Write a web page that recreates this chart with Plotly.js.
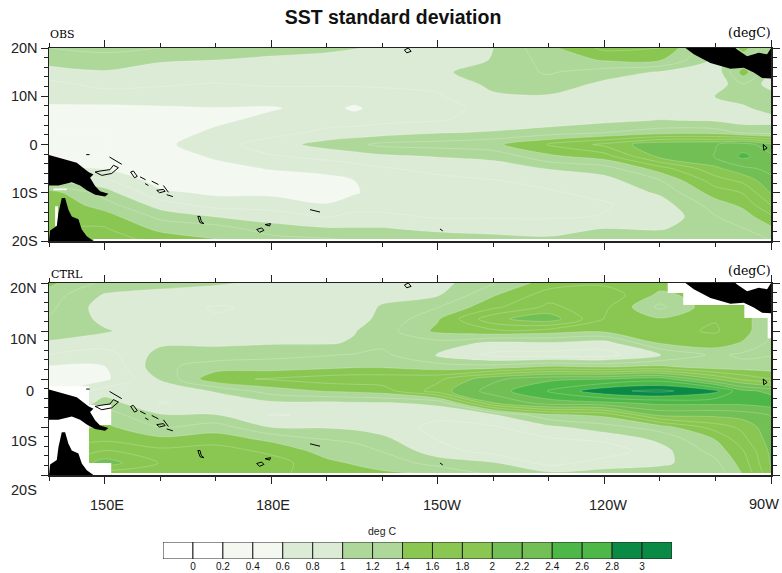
<!DOCTYPE html>
<html><head><meta charset="utf-8">
<script src="https://cdn.plot.ly/plotly-3.0.1.min.js"></script>
<style>html,body{margin:0;padding:0;background:#fff}</style></head>
<body><div id="chart" style="width:782px;height:573px"></div>
<script>
const lons=[140,150,160,170,180,190,195,200,210,220,230,240,250,260,265,270];
const lats=[20,17.5,15,12.5,10,7.5,5,2.5,0,-2.5,-5,-7.5,-10,-12.5,-15,-17.5,-20];

// one inner list per longitude, north to south
const obsColumns=[
[1.2,1.1,.9,.75,.7,.55,.45,.4,.4,.4,.59,1.0,1.5,1.57,1.58,1.59,1.58],
[1.25,1.12,.98,.85,.72,.55,.45,.4,.38,.4,.59,.85,1.1,1.3,1.5,1.62,1.7],
[1.2,1.02,.92,.82,.72,.57,.48,.5,.55,.52,.45,.5,.65,.9,1.15,1.35,1.55],
[1.15,1.0,.9,.79,.72,.59,.56,.64,.72,.62,.55,.48,.56,.72,1.0,1.3,1.42],
[1.1,.95,.88,.82,.72,.58,.66,.72,.9,.78,.61,.52,.55,.72,.9,1.1,1.3],
[1.05,.92,.85,.82,.7,.68,.72,.85,1.08,.85,.68,.52,.46,.62,.79,1.03,1.25],
[1.01,.9,.85,.82,.72,.56,.72,.88,1.15,.9,.72,.6,.58,.72,.85,1.02,1.2],
[.96,.9,.85,.82,.75,.7,.76,.9,1.25,.95,.78,.7,.68,.72,.85,1.02,1.19],
[.9,.9,.96,.85,.78,.75,.79,.98,1.28,1.01,.85,.75,.72,.72,.78,.95,1.15],
[1.0,1.01,1.1,1.05,.97,.85,.85,1.02,1.35,1.05,.9,.79,.75,.72,.78,.92,1.1],
[1.35,1.28,1.22,1.12,.98,.85,.88,1.1,1.61,1.35,1.01,.85,.78,.72,.78,.92,1.05],
[1.65,1.42,1.1,.95,.88,.85,.95,1.19,1.85,1.5,1.1,.92,.85,.78,.81,1.01,1.15],
[1.61,1.42,.98,.9,.85,.82,1.01,1.3,2.15,2.05,1.5,1.19,1.03,.9,.85,.98,1.19],
[.99,.95,.85,.85,1.01,.9,.98,1.3,2.19,2.21,1.95,1.7,1.5,1.3,1.19,1.15,1.1],
[1.5,1.19,1.5,1.19,1.05,.98,.92,1.15,2.3,2.45,2.15,1.85,1.61,1.45,1.3,1.19,1.1],
[.99,.98,.97,.9,1.1,1.05,.95,1.1,2.05,2.25,2.25,2.15,2.02,1.81,1.55,1.35,1.19]
];
const ctrlColumns=[
[1.45,1.3,1.25,1.19,1.08,.98,.79,.58,.5,.5,.59,.79,1.19,1.5,1.59,1.61,1.58],
[1.15,.98,.9,.95,1.02,.9,.7,.59,.55,.9,1.1,1.3,1.45,1.55,1.81,2.1,1.61],
[1.05,.95,.85,.85,.88,.96,1.08,1.15,1.02,.85,.79,1.02,1.19,1.45,1.65,1.79,1.7],
[1.03,.88,.79,.81,.85,.96,1.1,1.3,1.55,1.02,.85,1.01,1.3,1.5,1.7,1.75,1.7],
[.95,.85,.82,.83,.88,.98,1.15,1.3,1.62,1.3,.95,.79,.99,1.35,1.55,1.7,1.65],
[.95,.88,.88,.9,.92,.98,1.19,1.35,1.7,1.42,.95,.82,.98,1.19,1.32,1.45,1.5],
[.97,.92,.95,.97,.99,1.02,1.22,1.38,1.72,1.45,.97,.82,.95,1.15,1.3,1.38,1.5],
[.99,.97,1.01,1.02,1.1,1.15,1.25,1.38,1.72,1.5,.98,.82,.9,1.05,1.19,1.32,1.45],
[.92,.98,1.19,1.38,1.45,1.12,.98,1.3,1.75,1.9,1.05,.85,.75,.79,.88,1.12,1.41],
[1.19,1.38,1.55,1.95,1.55,.95,.75,1.3,2.15,2.3,1.99,.97,.78,.7,.72,1.02,1.19],
[1.5,1.7,1.85,2.12,1.5,.98,.72,1.45,2.35,2.61,2.3,1.35,.95,.78,.68,.72,1.1],
[1.55,1.75,1.65,1.59,1.45,.9,.72,1.39,2.39,2.95,2.35,1.45,1.12,.85,.68,.9,1.1],
[1.5,1.35,1.15,1.42,1.55,1.42,.98,1.45,2.5,3.05,2.45,2.05,1.3,1.05,.92,.95,1.15],
[1.5,1.5,1.55,1.59,1.62,1.5,1.25,1.3,1.99,2.85,2.45,2.05,1.7,1.41,1.28,1.15,1.05],
[1.5,1.5,1.5,1.5,1.48,1.38,1.15,1.3,1.75,2.45,2.45,2.1,1.85,1.75,1.59,1.5,1.41],
[1.3,1.3,1.25,1.19,1.21,1.15,1.19,1.3,1.59,2.35,2.5,2.21,2.15,2.1,2.05,2.02,1.95]
];

// coastline, black fill (lon, lat; null separates pieces)
const landLon=[140,142.6,145,147.1,148,147.4,148.3,149.2,150.7,150.1,148.3,146.8,145.6,144.1,141.7,140,null,
 140.2,141.4,141.7,142.3,142.9,143.5,144.1,145.3,145.9,146.8,148,140,null,
 254.6,256.1,259.1,262.7,265.1,266.9,268.4,270,270,269.3,267.8,265.7,263.9,263.6];
const landLat=[-2.2,-3.1,-3.8,-5.7,-6.2,-6.9,-8.6,-9.7,-10.2,-10.8,-10.4,-9.5,-8.5,-7.8,-8.5,-8.5,null,
 -17.8,-16.9,-14.2,-11.1,-11.1,-13.5,-14.9,-15.5,-17.6,-19,-20,-20,null,
 20,18.7,16.9,15.7,15.9,14.9,13.8,13.7,20,18.7,19,18.3,19.7,20];
// island outlines
const isleLon=[148.3,149.5,151.3,152.5,151.6,151,149.2,148.3,null,150.9,153.1,null,154.7,155.2,155.9,155.4,154.7,null,156.4,157.4,null,158.5,159.7,null,157.3,157.9,null,160.6,161.5,null,159.4,160.6,160.9,159.9,159.4,null,161.2,162.3,null,146.7,147.3,null,166.8,167.2,167.4,167.9,167.2,166.8,null,177.4,178.3,178.7,177.9,177.4,null,178.9,179.9,179.7,179,178.9,null,187,188.8,null,204,204.7,205.2,204.4,204,null,210.4,210.9,null,268.6,269,269.3,268.7,268.6];
const isleLat=[-5.7,-6.4,-6,-4.8,-4.3,-5.2,-5.5,-5.7,null,-2.6,-4.1,null,-5.7,-5.5,-6.6,-6.9,-5.7,null,-6.7,-7.3,null,-7.6,-8.3,null,-8.1,-8.5,null,-8.5,-9.9,null,-9.5,-9.3,-9.7,-10,-9.5,null,-10.4,-10.8,null,-2.1,-2.1,null,-14.9,-14.9,-15.9,-16.4,-16.2,-14.9,null,-17.6,-17.3,-17.8,-18.2,-17.6,null,-16.6,-16.4,-16.9,-16.7,-16.6,null,-13.5,-14,null,19.6,20,19.3,19,19.6,null,-17.5,-17.9,null,0,-.35,-.7,-1.2,0];
// missing-data areas
const obsGapLon=[148,270,270,148,null,141.1,141.6,141.6,141.1,null,140.8,143.2,143.2,140.8];
const obsGapLat=[-19.6,-19.6,-20,-20,null,-12.8,-12.8,-16.9,-16.9,null,-9.1,-9.1,-9.5,-9.5];
const ctrlGapLon=[140,147.2,147.2,140,null,147.2,151.2,151.2,147.2,null,147.2,151.2,151.2,147.2,null,151.2,270,270,151.2,null,251.4,251.4,254.2,254.2,265.2,265.2,269.4,269.4,270,270];
const ctrlGapLat=[-1.5,-1.5,-20,-20,null,-5.4,-5.4,-9.6,-9.6,null,-17.5,-17.5,-20,-20,null,-19.6,-19.6,-20,-20,null,20,17.9,17.9,15.4,15.4,12.7,12.7,8.5,8.5,20];

const levelLabels=['0','0.2','0.4','0.6','0.8','1','1.2','1.4','1.6','1.8','2','2.2','2.4','2.6','2.8','3'];
const bandColors=['#ffffff','#ffffff','#f3f8f1','#f3f8f1','#dcebd5','#dcebd5','#aed79a','#aed79a','#8ac752','#8ac752','#8ac752','#72bf55','#72bf55','#4db848','#4db848','#0b8a45','#0b8a45'];
const lonTicks=[150,180,210,240,270];
const lonLabels=['150E','180E','150W','120W','90W'];
const latTicks=[20,10,0,-10,-20];
const latLabels=['20N','10N','0','10S','20S'];
const lonMinor=[140,160,170,190,200,220,230,250,260];
const latMinor=[18,16,14,12,8,6,4,2,-2,-4,-6,-8,-12,-14,-16,-18];

const W=782,H=573,FONT='"Liberation Sans",Arial,sans-serif',SERIF='"DejaVu Serif",serif';
const px=v=>v/W, py=v=>1-v/H;
const latAsc=lats.slice().reverse();
const grid=cols=>latAsc.map((_,r)=>cols.map(c=>c[lats.length-1-r]));
const scale=bandColors.map((c,i)=>[i/(bandColors.length-1),c]);

function field(cols,xa,ya){return {type:'contour',x:lons,y:latAsc,z:grid(cols),xaxis:xa,yaxis:ya,
  colorscale:scale,showscale:false,autocontour:false,hoverinfo:'skip',
  contours:{coloring:'fill',start:0,end:3,size:0.2},
  line:{color:'rgba(255,255,255,0.35)',width:0.6,smoothing:0.9}};}
function fillT(x,y,xa,ya,c){return {type:'scatter',mode:'lines',x,y,xaxis:xa,yaxis:ya,fill:'toself',fillcolor:c,line:{width:0,color:c},hoverinfo:'skip'};}
function lineT(x,y,xa,ya){return {type:'scatter',mode:'lines',x,y,xaxis:xa,yaxis:ya,line:{width:1,color:'#000'},hoverinfo:'skip'};}

const barX=bandColors.map((_,i)=>i+0.5);
const data=[
 field(obsColumns,'x','y'),fillT(obsGapLon,obsGapLat,'x','y','#fff'),fillT(landLon,landLat,'x','y','#000'),lineT(isleLon,isleLat,'x','y'),
 field(ctrlColumns,'x2','y2'),fillT(ctrlGapLon,ctrlGapLat,'x2','y2','#fff'),fillT(landLon,landLat,'x2','y2','#000'),lineT(isleLon,isleLat,'x2','y2'),
 {type:'bar',x:barX,y:bandColors.map(()=>1),width:1,xaxis:'x3',yaxis:'y3',marker:{color:bandColors,line:{color:'#222',width:1}},hoverinfo:'skip'}
];

const axLine={showline:true,linecolor:'#222',linewidth:1.5,mirror:'ticks',ticks:'outside',tickcolor:'#222',tickwidth:1,ticklen:7,showgrid:false,zeroline:false};
const xBase=Object.assign({},axLine,{range:[140,270],tickmode:'array',tickvals:lonTicks,ticktext:lonLabels,showticklabels:false,
  minor:{tickmode:'array',tickvals:lonMinor,ticks:'outside',ticklen:4,tickcolor:'#222',tickwidth:1,showgrid:false}});
const yBase=Object.assign({},axLine,{range:[-20,20],tickmode:'array',tickvals:latTicks,ticktext:latLabels,
  minor:{tickmode:'array',tickvals:latMinor,ticks:'outside',ticklen:4,tickcolor:'#222',tickwidth:1,showgrid:false},
  tickfont:{family:FONT,size:14.5,color:'#222'}});

const ann=(text,x,y,o)=>Object.assign({text,x:px(x),y:py(y),xref:'paper',yref:'paper',showarrow:false,xanchor:'center',yanchor:'middle',font:{family:FONT,size:14.5,color:'#222'}},o||{});
const annotations=[
 ann('OBS',48,35,{xanchor:'left',font:{family:SERIF,size:11,color:'#000'}}),
 ann('(degC)',773,32,{xanchor:'right',font:{family:SERIF,size:12.5,color:'#000'}}),
 ann('CTRL',49,274,{xanchor:'left',font:{family:SERIF,size:11,color:'#000'}}),
 ann('(degC)',773,271,{xanchor:'right',font:{family:SERIF,size:12.5,color:'#000'}}),
 ann('deg C',382,531,{font:{family:FONT,size:10.5,color:'#222'}}),
 ann('20N',39,288,{xanchor:'right'}),ann('10N',39,339,{xanchor:'right'}),ann('0',36,391,{xanchor:'right'}),ann('10S',39,441,{xanchor:'right'}),ann('20S',39,490,{xanchor:'right'}),
 ann('150E',107,505),ann('180E',273,505),ann('150W',442,505),ann('120W',608,505),ann('90W',781,504,{xanchor:'right'})
];

const layout={width:W,height:H,margin:{l:0,r:0,t:0,b:0},paper_bgcolor:'#fff',plot_bgcolor:'#fff',showlegend:false,
 title:{text:'<b>SST standard deviation</b>',x:393/W,xanchor:'center',y:py(17),yanchor:'middle',font:{family:FONT,size:19.5,color:'#111'}},
 xaxis:Object.assign({},xBase,{domain:[px(49),px(771)],anchor:'y'}),
 yaxis:Object.assign({},yBase,{domain:[py(241),py(48)],anchor:'x'}),
 xaxis2:Object.assign({},xBase,{domain:[px(49),px(771)],anchor:'y2'}),
 yaxis2:Object.assign({},yBase,{domain:[py(475),py(283)],anchor:'x2',showticklabels:false}),
 xaxis3:{domain:[px(163),px(672)],anchor:'y3',range:[0,17],tickmode:'array',tickvals:levelLabels.map((_,i)=>i+1),ticktext:levelLabels,
   ticks:'',showline:false,showgrid:false,zeroline:false,tickfont:{family:FONT,size:10,color:'#111'}},
 yaxis3:{domain:[py(559),py(542)],anchor:'x3',range:[0,1],showticklabels:false,ticks:'',showline:false,showgrid:false,zeroline:false},
 annotations};
Plotly.newPlot('chart',data,layout,{displayModeBar:false,staticPlot:true});
</script></body></html>
